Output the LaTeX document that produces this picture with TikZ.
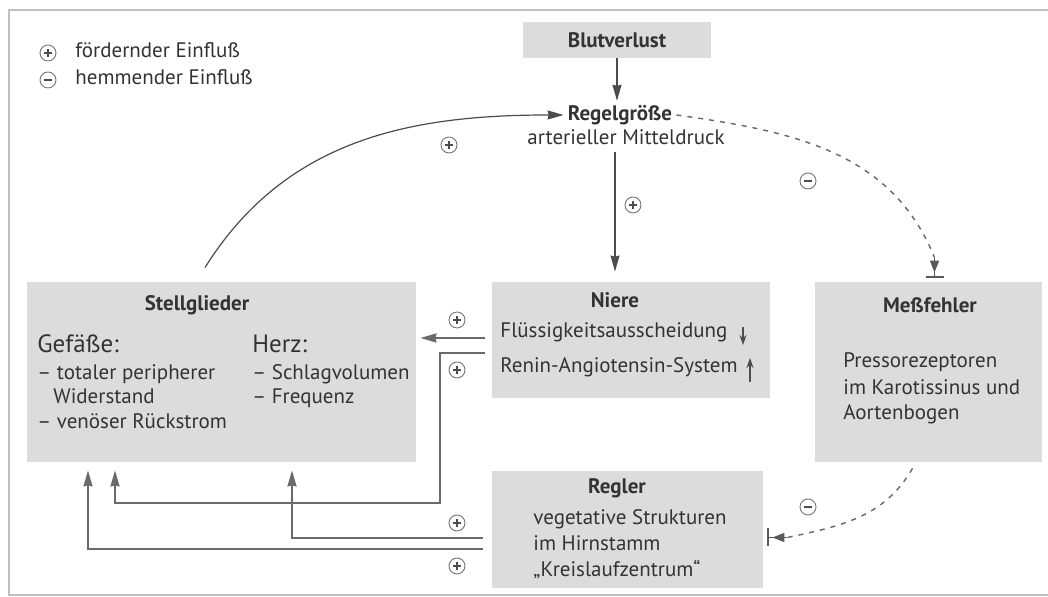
\documentclass[tikz,border=0pt]{standalone}
\usepackage{fontspec}
\setmainfont{PT Sans}
\usetikzlibrary{arrows.meta,calc}

\definecolor{boxgray}{HTML}{DCDCDC}
\definecolor{txtgray}{HTML}{333333}
\definecolor{linegray}{HTML}{6A6A6A}

\tikzset{
  box/.style={fill=boxgray, inner sep=0pt},
  title/.style={font=\fontsize{10.5}{12}\bfseries\selectfont, text=txtgray, inner sep=2pt},
  txt/.style={font=\fontsize{10.5}{12}\selectfont, text=txtgray, inner sep=0pt, anchor=mid west},
  bigtxt/.style={font=\fontsize{12.5}{14}\selectfont, text=txtgray, inner sep=0pt, anchor=mid west},
  conn/.style={draw=linegray, line width=1pt, -{Stealth[length=8pt,width=4.5pt,inset=0.5pt]}},
  curvearr/.style={draw=black!70, line width=0.6pt, -{Stealth[length=8pt,width=4.5pt,inset=0.5pt]}},
  hemm/.style={draw=black!60, line width=0.7pt, dash pattern=on 2.5pt off 3pt},
  hemmtip/.style={draw=black!65, line width=0.7pt,
    -{Triangle[length=6pt,width=4.5pt,sep=1.5pt] Bar[width=9pt,line width=1pt]}},
  sign/.style={circle, draw=black!55, line width=0.45pt, minimum size=8pt, inner sep=0pt},
  pluscirc/.style={sign, path picture={
    \draw[black!70, line width=0.6pt]
      ([xshift=-2pt]path picture bounding box.center) -- ([xshift=2pt]path picture bounding box.center)
      ([yshift=-2pt]path picture bounding box.center) -- ([yshift=2pt]path picture bounding box.center);}},
  minuscirc/.style={sign, path picture={
    \draw[black!70, line width=0.7pt]
      ([xshift=-2.2pt]path picture bounding box.center) -- ([xshift=2.2pt]path picture bounding box.center);}}
}

\begin{document}
\begin{tikzpicture}[x=0.5pt,y=0.5pt]
  \useasboundingbox (0,0) rectangle (1048,597);
  \draw[black!25, line width=1pt] (1048,587) -- (9,587) -- (9,2) -- (1048,2);

  % legend
  \node[pluscirc] (lgplus) at (48,544) {};
  \node[txt] (lgfoerd) at (75,544) {fördernder Einfluß};
  \node[minuscirc] (lgminus) at (48,517) {};
  \node[txt] (lghemm) at (75,517) {hemmender Einfluß};

  % boxes
  \node[box, minimum width=94pt, minimum height=18pt, font=\fontsize{10.5}{12}\bfseries\selectfont, text=txtgray]
    (blut) at (617,557) {Blutverlust};
  \node[box, minimum width=194.5pt, minimum height=90pt] (stell) at (221.5,225) {};
  \node[box, minimum width=139pt, minimum height=58pt] (niere) at (631,257) {};
  \node[box, minimum width=113.5pt, minimum height=90pt] (mess) at (928.5,225) {};
  \node[box, minimum width=135.5pt, minimum height=58.5pt] (regler) at (627.5,67.5) {};

  % Regelgroesse
  \node[title] (regel) at (620,482) {Regelgröße};
  \node[txt, anchor=mid] (mittel) at (626,457) {arterieller Mitteldruck};

  % Stellglieder
  \node[title] (stelltitle) at (197,292) {Stellglieder};
  \node[bigtxt] (gef) at (37,249) {Gefäße:};
  \node[txt] (gef1) at (37,222) {– totaler peripherer};
  \node[txt] (gef2) at (53,198) {Widerstand};
  \node[txt] (gef3) at (37,173) {– venöser Rückstrom};
  \node[bigtxt] (herz) at (252,249) {Herz:};
  \node[txt] (herz1) at (252,222) {– Schlagvolumen};
  \node[txt] (herz2) at (252,198) {– Frequenz};

  % Niere
  \node[title] (nieretitle) at (615,297) {Niere};
  \node[txt] (niere1) at (500,264) {Flüssigkeitsausscheidung};
  \node[txt] (niere2) at (500,229) {Renin-Angiotensin-System};
  \draw[black!70, line width=0.6pt, -{Stealth[length=5pt,width=3.5pt]}] (743,270) -- (743,252);
  \draw[black!70, line width=0.6pt, -{Stealth[length=5pt,width=3.5pt]}] (750,215) -- (750,239);

  % Messfehler
  \node[title] (messtitle) at (930,292) {Meßfehler};
  \node[txt] (mess1) at (843,234) {Pressorezeptoren};
  \node[txt] (mess2) at (843,207) {im Karotissinus und};
  \node[txt] (mess3) at (843,182) {Aortenbogen};

  % Regler
  \node[title] (reglertitle) at (617,109) {Regler};
  \node[txt] (regler1) at (533,77) {vegetative Strukturen};
  \node[txt] (regler2) at (533,51) {im Hirnstamm};
  \node[txt] (regler3) at (533,25) {„Kreislaufzentrum“};

  % connectors
  \draw[curvearr] (blut.south) -- (blut.south |- regel.north);
  \draw[curvearr] ($(niere.north)+(-16,130)$) -- ($(niere.north)+(-16,10)$);
  \draw[curvearr] ($(stell.north)+(-16.5,14)$) to[out=58,in=180] (regel.west);
  \coordinate (messin) at ($(mess.north)+(6,24)$);
  \coordinate (reglerin) at ($(regler.east)+(24,-8)$);
  \draw[hemm] (regel.east) to[out=-8,in=112] (messin);
  \draw[hemmtip] (messin) -- ($(mess.north)+(6,4)$);
  \draw[hemm] ($(mess.south)+(-16,-6)$) to[out=240,in=12] (reglerin);
  \draw[hemmtip] (reglerin) -- ($(regler.east)+(4,-8)$);
  \draw[conn] ($(niere.west)+(-7,2)$) -- ($(stell.east)+(4,34)$);
  \draw[conn] ($(niere.west)+(-7,-13)$) -| (440,94) -| ($(stell.south)+(-106.5,-8)$);
  \draw[conn] ($(regler.west)+(-9,-8.5)$) -| ($(stell.south)+(70.5,-8)$);
  \draw[conn] ($(regler.west)+(-9,-19.5)$) -| ($(stell.south)+(-133.5,-8)$);

  % signs
  \node[pluscirc] (s1) at (449,452) {};
  \node[pluscirc] (s2) at (633,392) {};
  \node[minuscirc] (s3) at (808,416) {};
  \node[minuscirc] (s4) at (808,90) {};
  \node[pluscirc] (s5) at (457,277) {};
  \node[pluscirc] (s6) at (457,227) {};
  \node[pluscirc] (s7) at (457,74) {};
  \node[pluscirc] (s8) at (457,31) {};
\end{tikzpicture}
\end{document}
